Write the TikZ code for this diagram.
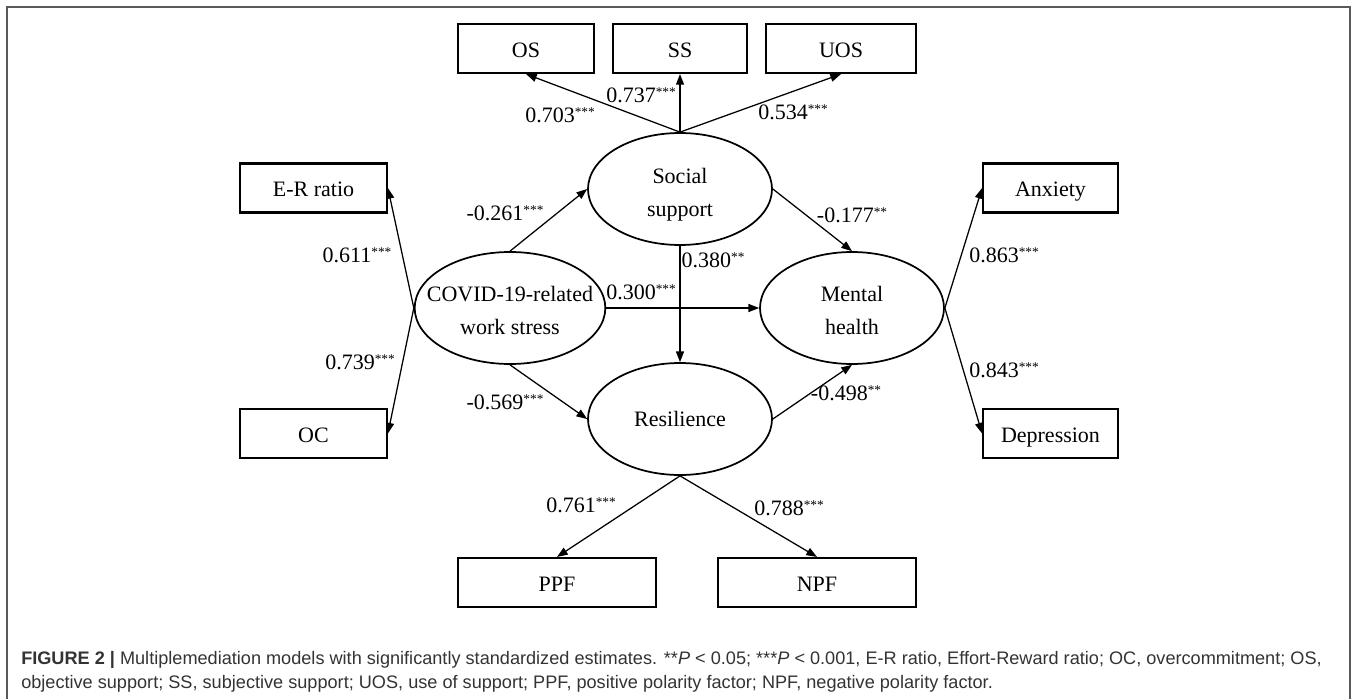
\documentclass[tikz,border=0pt]{standalone}
\usepackage{fontspec}
\setmainfont{Liberation Serif}
\newfontfamily\capfont{Liberation Sans}
\usetikzlibrary{shapes.geometric,arrows.meta}
\newcommand{\sig}[1]{\raisebox{4.2pt}{\fontsize{10}{10}\selectfont#1}}
\newcommand{\lv}[3]{\rule{0pt}{#1}\makebox[0pt]{#2}\\\makebox[0pt]{#3}}

\begin{document}
\begin{tikzpicture}[x=0.75pt,y=-0.75pt,
	obsbox/.style={draw,line width=1.6pt,minimum height=36.75pt,inner sep=0pt,text height=13.2pt,text depth=0pt,font=\fontsize{16.5}{20}\selectfont},
	latent/.style={draw,ellipse,line width=1.3pt,minimum width=138pt,minimum height=84pt,inner sep=0pt,align=center,font=\fontsize{16.5}{24.75}\selectfont},
	coef/.style={inner sep=0pt,font=\fontsize{16.5}{20}\selectfont},
	arr/.style={line width=0.95pt,-{Triangle[length=8pt,width=6pt]}}]
	\useasboundingbox (0,0) rectangle (1357,699);
	\draw[line width=1.1pt,black!65] (7,699)--(7,7)--(1350,7)--(1350,699);
	%latent variables
	\node[latent] (soc) at (680,189) {\lv{20.3pt}{Social}{support}};
	\node[latent,minimum width=143pt] (cov) at (510,308) {\lv{15.8pt}{COVID-19-related}{work stress}};
	\node[latent] (men) at (852,308) {\lv{15.8pt}{Mental}{health}};
	\node[latent] (res) at (680,419) {\makebox[0pt]{Resilience}};
	%indicators
	\node[obsbox,minimum width=102pt] (os) at (526,48.5) {OS};
	\node[obsbox,minimum width=100.5pt] (ss) at (680,48.5) {SS};
	\node[obsbox,minimum width=112.5pt] (uos) at (841,48.5) {UOS};
	\node[obsbox,minimum width=110pt] (er) at (313.5,188) {E-R ratio};
	\node[obsbox,minimum width=110pt] (oc) at (313.5,433.5) {OC};
	\node[obsbox,minimum width=101pt] (anx) at (1050.5,188) {Anxiety};
	\node[obsbox,minimum width=101pt] (dep) at (1050.5,433.5) {Depression};
	\node[obsbox,minimum width=148.5pt] (ppf) at (557,582.5) {PPF};
	\node[obsbox,minimum width=148.5pt] (npf) at (817,582.5) {NPF};
	%paths
	\foreach \a/\b in {soc.north/os.south,soc.north/ss.south,soc.north/uos.south,
		cov.west/er.east,cov.west/oc.east,cov.north/soc.west,cov.south/res.west,
		cov.east/men.west,soc.south/res.north,soc.east/men.north,res.east/men.south,
		men.east/anx.west,men.east/dep.west,res.south/ppf.north,res.south/npf.north}
	\draw[arr] (\a)--(\b);
	%coefficients
	\node[coef] (c1) at (641,95) {0.737\sig{***}};
	\node[coef] (c2) at (560,115) {0.703\sig{***}};
	\node[coef] (c3) at (793,112) {0.534\sig{***}};
	\node[coef] (c4) at (505,213) {-0.261\sig{***}};
	\node[coef] (c5) at (357,255) {0.611\sig{***}};
	\node[coef] (c6) at (641,292) {0.300\sig{***}};
	\node[coef] (c7) at (713,260) {0.380\sig{**}};
	\node[coef] (c8) at (852,215) {-0.177\sig{**}};
	\node[coef] (c9) at (1004,255) {0.863\sig{***}};
	\node[coef] (c10) at (360,362) {0.739\sig{***}};
	\node[coef] (c11) at (505,402) {-0.569\sig{***}};
	\node[coef] (c12) at (846,393) {-0.498\sig{**}};
	\node[coef] (c13) at (1004,370) {0.843\sig{***}};
	\node[coef] (c14) at (581,505) {0.761\sig{***}};
	\node[coef] (c15) at (789,508) {0.788\sig{***}};
	%caption
	\node[anchor=base west,inner sep=0pt,text=black!80] (cap1) at (21,664) {\capfont\fontsize{13.6}{16}\selectfont\textbf{FIGURE 2 |} Multiplemediation models with significantly standardized estimates. **\textit{P} < 0.05; ***\textit{P} < 0.001, E-R ratio, Effort-Reward ratio; OC, overcommitment; OS,};
	\node[anchor=base west,inner sep=0pt,text=black!80] (cap2) at (21,688) {\capfont\fontsize{13.6}{16}\selectfont objective support; SS, subjective support; UOS, use of support; PPF, positive polarity factor; NPF, negative polarity factor.};
\end{tikzpicture}
\end{document}
